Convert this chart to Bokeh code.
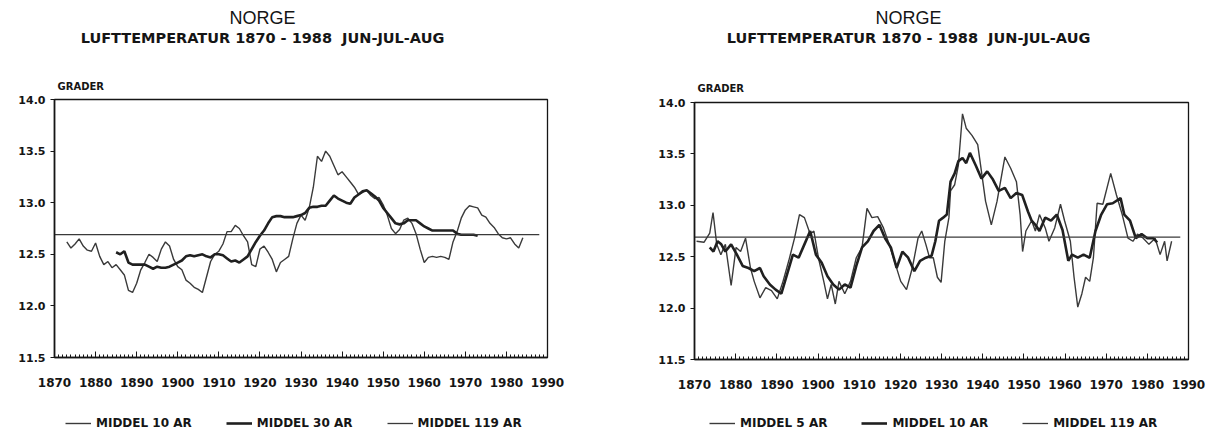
from bokeh.plotting import figure
from bokeh.models import (Label, Legend, LegendItem, Range1d, SingleIntervalTicker,
                          FixedTicker, PrintfTickFormatter)
from bokeh.layouts import row, column
from bokeh.embed import file_html
from bokeh.resources import INLINE

# ---- data: summer (Jun-Jul-Aug) air temperature, Norway, running means ----
# left panel: 10-year and 30-year running means
years_10 = list(range(1873, 1985))
mean_10 = [12.62, 12.56, 12.60, 12.65, 12.58, 12.54, 12.53, 12.61, 12.48, 12.40,
           12.43, 12.37, 12.40, 12.35, 12.30, 12.15, 12.13, 12.22, 12.35, 12.42,
           12.50, 12.47, 12.43, 12.55, 12.62, 12.58, 12.45, 12.38, 12.35, 12.25,
           12.22, 12.18, 12.16, 12.13, 12.28, 12.43, 12.50, 12.53, 12.60, 12.72,
           12.72, 12.78, 12.75, 12.68, 12.62, 12.40, 12.38, 12.55, 12.58, 12.52,
           12.45, 12.33, 12.42, 12.45, 12.48, 12.65, 12.80, 12.88, 12.83, 12.95,
           13.15, 13.45, 13.40, 13.50, 13.45, 13.36, 13.27, 13.30, 13.25, 13.20,
           13.15, 13.08, 13.10, 13.12, 13.07, 13.04, 13.05, 12.98, 12.88, 12.75,
           12.70, 12.74, 12.83, 12.85, 12.80, 12.70, 12.55, 12.42, 12.47, 12.48,
           12.47, 12.48, 12.47, 12.45, 12.62, 12.72, 12.85, 12.93, 12.97, 12.96,
           12.95, 12.88, 12.86, 12.80, 12.76, 12.70, 12.66, 12.65, 12.66, 12.60,
           12.56, 12.66]

years_30 = list(range(1885, 1974))
mean_30 = [12.52, 12.50, 12.53, 12.42, 12.40, 12.40, 12.40, 12.40, 12.38, 12.36,
           12.38, 12.37, 12.37, 12.38, 12.40, 12.42, 12.44, 12.48, 12.49, 12.48,
           12.49, 12.50, 12.48, 12.47, 12.50, 12.50, 12.49, 12.46, 12.43, 12.44,
           12.42, 12.45, 12.48, 12.55, 12.62, 12.68, 12.73, 12.80, 12.86, 12.87,
           12.87, 12.86, 12.86, 12.86, 12.87, 12.88, 12.90, 12.95, 12.96, 12.96,
           12.97, 12.97, 13.02, 13.07, 13.04, 13.02, 13.00, 12.99, 13.05, 13.08,
           13.11, 13.12, 13.09, 13.06, 13.02, 12.95, 12.90, 12.85, 12.80, 12.79,
           12.80, 12.83, 12.83, 12.83, 12.80, 12.77, 12.75, 12.73, 12.73, 12.73,
           12.73, 12.73, 12.73, 12.70, 12.69, 12.69, 12.69, 12.69, 12.68]

# right panel: 5-year and 10-year running means
years_5 = [1870.5, 1872.3, 1873.7, 1874.5, 1875.4, 1876.4, 1877.5, 1878.9, 1880.1, 1881.2,
           1882.4, 1883.6, 1884.5, 1885.9, 1887.3, 1888.7, 1890.1, 1891.5, 1892.9, 1894.3,
           1895.5, 1896.7, 1898.1, 1899.0, 1900.1, 1901.4, 1902.3, 1903.2, 1904.2, 1905.1,
           1906.5, 1907.9, 1909.3, 1910.7, 1911.9, 1913.1, 1914.5, 1915.9, 1917.3, 1918.7,
           1920.1, 1921.5, 1922.9, 1924.3, 1925.2, 1926.2, 1927.1, 1928.0, 1929.0, 1929.9,
           1930.8, 1931.8, 1932.2, 1933.2, 1934.1, 1935.1, 1936.0, 1937.4, 1938.8, 1939.7,
           1940.7, 1942.1, 1943.5, 1945.4, 1946.8, 1948.2, 1949.1, 1949.7, 1950.5, 1951.9,
           1952.8, 1953.8, 1955.2, 1956.1, 1957.5, 1958.9, 1959.9, 1961.3, 1962.2, 1963.1,
           1964.1, 1965.0, 1966.0, 1966.9, 1967.8, 1969.2, 1971.1, 1972.5, 1973.9, 1975.3,
           1976.5, 1977.6, 1979.0, 1980.4, 1981.9, 1983.1, 1984.2, 1984.8, 1985.9]
mean_5 = [12.65, 12.64, 12.73, 12.93, 12.62, 12.52, 12.62, 12.22, 12.59, 12.55,
          12.68, 12.39, 12.26, 12.10, 12.20, 12.17, 12.09, 12.26, 12.46, 12.68,
          12.91, 12.88, 12.72, 12.75, 12.49, 12.26, 12.09, 12.23, 12.04, 12.26,
          12.14, 12.26, 12.49, 12.59, 12.97, 12.88, 12.89, 12.78, 12.62, 12.44,
          12.26, 12.18, 12.39, 12.68, 12.75, 12.62, 12.49, 12.49, 12.30, 12.25,
          12.65, 12.88, 13.14, 13.20, 13.39, 13.89, 13.75, 13.68, 13.59, 13.33,
          13.04, 12.81, 13.04, 13.47, 13.36, 13.23, 12.91, 12.55, 12.75, 12.85,
          12.75, 12.91, 12.78, 12.65, 12.78, 13.01, 12.85, 12.65, 12.30, 12.01,
          12.14, 12.30, 12.26, 12.49, 13.02, 13.01, 13.31, 13.10, 12.91, 12.68,
          12.65, 12.72, 12.68, 12.62, 12.68, 12.52, 12.65, 12.46, 12.65]

years_10r = [1873.7, 1874.6, 1875.6, 1876.5, 1877.5, 1878.9, 1880.3, 1881.7, 1883.1, 1884.5,
             1885.9, 1886.8, 1888.3, 1889.7, 1891.1, 1892.5, 1893.9, 1895.3, 1896.7, 1898.1,
             1899.5, 1900.9, 1902.3, 1903.7, 1905.1, 1906.5, 1907.9, 1909.3, 1910.7, 1912.1,
             1913.5, 1914.9, 1916.3, 1917.7, 1919.1, 1920.5, 1921.9, 1923.4, 1924.8, 1926.2,
             1927.6, 1928.5, 1929.4, 1930.4, 1931.3, 1932.2, 1933.2, 1934.1, 1935.1, 1936.0,
             1936.9, 1938.3, 1939.7, 1941.1, 1942.5, 1943.9, 1945.4, 1946.8, 1948.2, 1949.6,
             1951.0, 1951.9, 1952.8, 1953.8, 1955.2, 1956.6, 1958.0, 1959.4, 1960.8, 1961.7,
             1963.1, 1964.5, 1966.0, 1967.4, 1968.8, 1970.2, 1971.6, 1973.5, 1974.4, 1975.8,
             1977.2, 1978.6, 1980.0, 1981.4, 1982.4]
mean_10r = [12.59, 12.55, 12.65, 12.62, 12.55, 12.62, 12.52, 12.41, 12.39, 12.36,
            12.39, 12.31, 12.23, 12.18, 12.14, 12.33, 12.52, 12.49, 12.62, 12.75,
            12.52, 12.44, 12.31, 12.23, 12.18, 12.23, 12.20, 12.41, 12.59, 12.65,
            12.75, 12.81, 12.68, 12.59, 12.39, 12.55, 12.49, 12.36, 12.46, 12.49,
            12.51, 12.65, 12.85, 12.88, 12.91, 13.23, 13.31, 13.43, 13.46, 13.41,
            13.51, 13.39, 13.26, 13.33, 13.25, 13.14, 13.17, 13.07, 13.12, 13.10,
            12.94, 12.85, 12.81, 12.75, 12.88, 12.85, 12.91, 12.76, 12.46, 12.52,
            12.49, 12.52, 12.49, 12.75, 12.91, 13.01, 13.02, 13.07, 12.91, 12.85,
            12.68, 12.72, 12.68, 12.68, 12.64]

# 119-year mean (1870-1988)
years_119 = [1870, 1988]
mean_119 = [12.69, 12.69]

y_ticks = [11.5, 12.0, 12.5, 13.0, 13.5, 14.0]
x_start, x_end = 1870, 1990
y_bottom, y_top = 11.5, 14.0

title_text = "NORGE"
subtitle_text = "LUFTTEMPERATUR 1870 - 1988\u00a0 JUN-JUL-AUG"
unit_text = "GRADER"

INK = "#151515"
THIN = "#3a3a3a"
THICK = "#202020"

PANEL_W = 604
HEAD_H = 93      # title block
FOOT_H = 33      # legend block
MAIN_H = 433 - HEAD_H - FOOT_H


def strip(frame_l, frame_r, height):
    """Text strip above/below the axes. Inside a column its drawing area lines up
    with the axes frame, so x is given in panel pixels over that same span."""
    f = figure(width=PANEL_W, height=height, output_backend="svg", toolbar_location=None,
               x_range=Range1d(frame_l, frame_r), y_range=Range1d(height, 0),
               x_axis_location=None, y_axis_location=None,
               min_border_left=frame_l, min_border_right=PANEL_W - frame_r,
               min_border_top=0, min_border_bottom=0)
    f.grid.visible = False
    f.outline_line_color = None
    f.background_fill_color = "white"
    f.border_fill_color = "white"
    return f


def header(frame_l, frame_r, title_cx, unit_x, unit_y):
    f = strip(frame_l, frame_r, HEAD_H)

    def text(x, y, s, size, font, style="normal", align="center"):
        f.add_layout(Label(x=x, y=y, text=s, text_font=font, text_font_style=style,
                           text_font_size=f"{size}px", text_align=align,
                           text_baseline="middle", text_color=INK))

    text(title_cx, 17, title_text, 18, "Liberation Sans")
    text(title_cx, 37, subtitle_text, 14.5, "DejaVu Sans", "bold")
    text(unit_x, unit_y, unit_text, 10, "DejaVu Sans", "bold", "left")
    return f


def footer(frame_l, frame_r, series, legend_x):
    f = strip(frame_l, frame_r, FOOT_H)
    items = []
    for label, xs, ys, lw, color in series:
        # same series as the axes panel; it falls outside this strip's ranges, so
        # only its legend swatch shows
        r = f.line(xs, ys, line_width=lw, line_color=color)
        items.append(LegendItem(label=label, renderers=[r]))
    legend = Legend(items=items, orientation="horizontal", location=(legend_x, 3),
                    glyph_width=26, glyph_height=12, label_height=12, label_standoff=5,
                    spacing=34, padding=0, margin=0,
                    border_line_alpha=0, background_fill_alpha=0,
                    label_text_font="DejaVu Sans", label_text_font_style="bold",
                    label_text_font_size="12px", label_text_color=INK)
    f.add_layout(legend, "center")
    return f


def axes_panel(frame_l, frame_r, frame_t, frame_b, series):
    p = figure(width=PANEL_W, height=MAIN_H, output_backend="svg", toolbar_location=None,
               x_range=Range1d(x_start, x_end), y_range=Range1d(y_bottom, y_top),
               min_border_left=frame_l, min_border_right=PANEL_W - frame_r,
               min_border_top=frame_t, min_border_bottom=MAIN_H - frame_b)
    p.background_fill_color = "white"
    p.border_fill_color = "white"
    p.grid.visible = False
    p.outline_line_color = INK
    p.outline_line_width = 1.3

    xa = p.xaxis[0]
    xa.ticker = SingleIntervalTicker(interval=10, num_minor_ticks=10)
    xa.major_tick_in = 6
    xa.major_tick_out = 0
    xa.minor_tick_in = 3
    xa.minor_tick_out = 0
    xa.axis_line_width = 1.6
    xa.axis_line_color = INK
    xa.major_tick_line_color = INK
    xa.minor_tick_line_color = INK
    xa.major_label_standoff = 20
    xa.major_label_text_font = "DejaVu Sans"
    xa.major_label_text_font_style = "bold"
    xa.major_label_text_font_size = "12px"
    xa.major_label_text_color = INK

    ya = p.yaxis[0]
    ya.ticker = FixedTicker(ticks=y_ticks)
    ya.formatter = PrintfTickFormatter(format="%.1f")
    ya.major_tick_in = 0
    ya.major_tick_out = 4
    ya.minor_tick_line_color = None
    ya.axis_line_width = 1.6
    ya.axis_line_color = INK
    ya.major_tick_line_color = INK
    ya.major_label_standoff = 5
    ya.major_label_text_font = "DejaVu Sans"
    ya.major_label_text_font_style = "bold"
    ya.major_label_text_font_size = "11px"
    ya.major_label_text_color = INK

    for label, xs, ys, lw, color in series:
        p.line(xs, ys, line_width=lw, line_color=color)
    return p


left_series = [("MIDDEL 10 AR", years_10, mean_10, 1.4, THIN),
               ("MIDDEL 30 AR", years_30, mean_30, 2.6, THICK),
               ("MIDDEL 119 AR", years_119, mean_119, 1.3, THIN)]
right_series = [("MIDDEL 5 AR", years_5, mean_5, 1.4, THIN),
                ("MIDDEL 10 AR", years_10r, mean_10r, 2.6, THICK),
                ("MIDDEL 119 AR", years_119, mean_119, 1.3, THIN)]

left = column(header(54, 547, 262, 57, 86),
              axes_panel(54, 547, 99 - HEAD_H, 357 - HEAD_H, left_series),
              footer(54, 547, left_series, 11))
right = column(header(90, 584, 304, 93, 88),
               axes_panel(90, 584, 102 - HEAD_H, 359 - HEAD_H, right_series),
               footer(90, 584, right_series, 15))

page = row(left, right)
open("out.html", "w").write(file_html(page, INLINE))
